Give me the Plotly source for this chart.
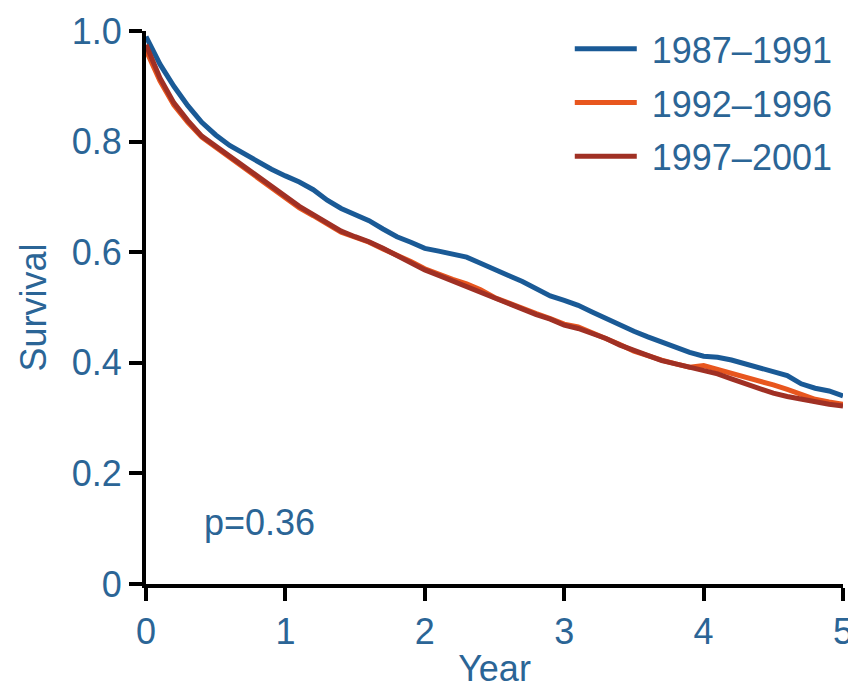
import plotly.graph_objects as go

years = [round(0.1 * i, 1) for i in range(51)]

surv_1987_1991 = [0.990, 0.940, 0.900, 0.865, 0.835, 0.812, 0.793, 0.778, 0.763, 0.750,
                  0.738, 0.727, 0.713, 0.694, 0.679, 0.668, 0.657, 0.642, 0.628, 0.618,
                  0.607, 0.602, 0.597, 0.591, 0.580, 0.568, 0.558, 0.547, 0.534, 0.521,
                  0.513, 0.504, 0.492, 0.480, 0.467, 0.457, 0.447, 0.437, 0.428, 0.419,
                  0.412, 0.410, 0.405, 0.398, 0.392, 0.386, 0.377, 0.362, 0.354, 0.349,
                  0.340]
surv_1992_1996 = [0.965, 0.910, 0.866, 0.835, 0.808, 0.790, 0.772, 0.753, 0.735, 0.717,
                  0.698, 0.680, 0.666, 0.652, 0.636, 0.627, 0.618, 0.606, 0.595, 0.583,
                  0.570, 0.560, 0.551, 0.543, 0.532, 0.518, 0.508, 0.497, 0.489, 0.480,
                  0.470, 0.465, 0.455, 0.445, 0.433, 0.421, 0.412, 0.405, 0.398, 0.392,
                  0.395, 0.388, 0.382, 0.375, 0.369, 0.360, 0.352, 0.344, 0.334, 0.329,
                  0.325]
surv_1997_2001 = [0.975, 0.915, 0.870, 0.838, 0.810, 0.792, 0.774, 0.756, 0.738, 0.720,
                  0.702, 0.683, 0.668, 0.654, 0.638, 0.628, 0.619, 0.607, 0.594, 0.581,
                  0.568, 0.558, 0.548, 0.537, 0.527, 0.516, 0.507, 0.497, 0.487, 0.479,
                  0.468, 0.462, 0.454, 0.444, 0.432, 0.422, 0.412, 0.404, 0.398, 0.392,
                  0.388, 0.380, 0.371, 0.362, 0.353, 0.345, 0.339, 0.334, 0.328, 0.325,
                  0.322]

series_names = ["1987\u20131991", "1992\u20131996", "1997\u20132001"]
series_values = [surv_1987_1991, surv_1992_1996, surv_1997_2001]
series_colors = ["#1a5a96", "#e8561e", "#a03024"]

x_ticks = [0, 1, 2, 3, 4, 5]
x_tick_labels = ["0", "1", "2", "3", "4", "5"]
y_ticks = [0, 0.2, 0.4, 0.6, 0.8, 1.0]
y_tick_labels = ["0", "0.2", "0.4", "0.6", "0.8", "1.0"]

text_color = "#2b6596"
font_family = "Liberation Sans, Arial, sans-serif"

fig = go.Figure()
for name, vals, col in zip(series_names, series_values, series_colors):
    fig.add_trace(go.Scatter(x=years, y=vals, mode="lines", name=" " + name,
                             legendgroup=name,
                             line=dict(color=col, width=5)))

axis_common = dict(showline=True, linewidth=4, linecolor="black", showgrid=False,
                   zeroline=False, ticks="outside", ticklen=13, tickwidth=4,
                   tickcolor="black", automargin=False,
                   tickfont=dict(size=36, color=text_color, family=font_family))

fig.update_layout(
    width=856, height=691,
    margin=dict(l=138, r=21, t=23, b=115, autoexpand=False),
    paper_bgcolor="white", plot_bgcolor="white",
    font=dict(family=font_family, size=36, color=text_color),
    xaxis=dict(range=[0, 5], tickvals=x_ticks, ticktext=x_tick_labels,
               title=dict(text="Year", font=dict(size=36, color=text_color), standoff=6),
               **axis_common),
    yaxis=dict(range=[0, 1], tickvals=y_ticks, ticktext=y_tick_labels,
               title=dict(text="Survival", font=dict(size=36, color=text_color), standoff=15),
               **axis_common),
    legend=dict(x=0.608, y=1.022, xanchor="left", yanchor="top",
                font=dict(size=36, color=text_color, family=font_family),
                bgcolor="rgba(0,0,0,0)", itemwidth=62, tracegroupgap=4),
    showlegend=True,
)

fig.add_annotation(x=0.4, y=0.112, xref="x", yref="y", text="p=0.36",
                   showarrow=False, xanchor="left", yanchor="middle",
                   font=dict(size=36, color=text_color, family=font_family))

fig.write_html("out.html")
